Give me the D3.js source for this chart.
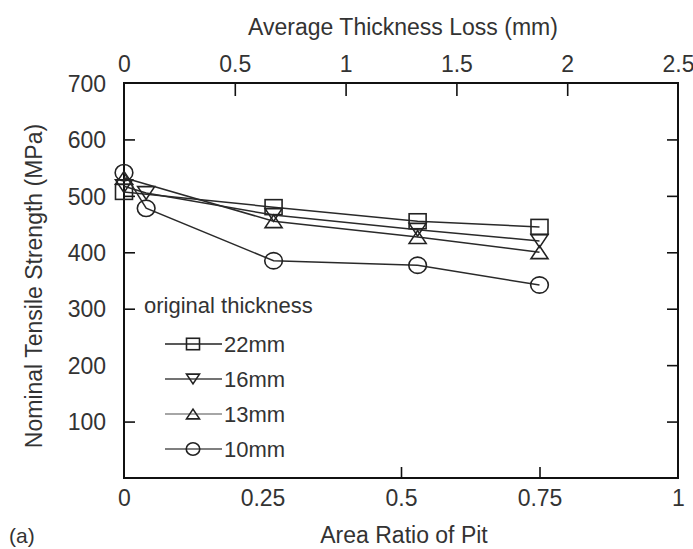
<!DOCTYPE html>
<html>
<head>
<meta charset="utf-8">
<script src="https://cdn.jsdelivr.net/npm/d3@7"></script>
<style>
  html, body { margin: 0; padding: 0; background: #fff; }
  svg text { font-family: "Liberation Sans", Arial, sans-serif; fill: #333; }
</style>
</head>
<body>
<svg id="chart" width="693" height="549"></svg>
<script>
// ---- data ----
const seriesNames = ["22mm", "16mm", "13mm", "10mm"];
const seriesSymbols = ["square", "triDown", "triUp", "circle"];
const ratio22 = [0, 0.27, 0.53, 0.75];
const value22 = [507, 480, 455, 445];
const ratio16 = [0, 0.04, 0.27, 0.53, 0.75];
const value16 = [517, 505, 466, 440, 420];
const ratio13 = [0, 0.27, 0.53, 0.75];
const value13 = [532, 455, 427, 400];
const ratio10 = [0, 0.04, 0.27, 0.53, 0.75];
const value10 = [541, 478, 385, 377, 342];
const xTicks = [0, 0.25, 0.5, 0.75, 1];
const xTickMarks = [0.5, 0.75];
const topTicks = [0, 0.5, 1, 1.5, 2, 2.5];
const topTickMarks = [0.5, 1, 1.5, 2];
const yTicks = [100, 200, 300, 400, 500, 600, 700];
const yTickMarksLeft = [100, 300, 400, 500, 600];
const yTickMarksRight = [100, 200, 300, 400, 500, 600];

const series = [
  { name: seriesNames[0], sym: seriesSymbols[0], x: ratio22, y: value22 },
  { name: seriesNames[1], sym: seriesSymbols[1], x: ratio16, y: value16 },
  { name: seriesNames[2], sym: seriesSymbols[2], x: ratio13, y: value13 },
  { name: seriesNames[3], sym: seriesSymbols[3], x: ratio10, y: value10 }
];

// ---- layout ----
const L = 124, R = 678, T = 83, B = 478;
const svg = d3.select("#chart");
const x = d3.scaleLinear().domain([0, 1]).range([L, R]);
const xTop = d3.scaleLinear().domain([0, 2.5]).range([L, R]);
const y = d3.scaleLinear().domain([0, 700]).range([B, T]);

const fmt = d => String(d);
const tickLen = 11;

// tick labels (no lines)
const lblBottom = svg.append("g").attr("transform", `translate(0,${B})`)
  .call(d3.axisBottom(x).tickValues(xTicks).tickSize(0).tickPadding(12).tickFormat(fmt));
const lblTop = svg.append("g").attr("transform", `translate(0,${T})`)
  .call(d3.axisTop(xTop).tickValues(topTicks).tickSize(0).tickPadding(11).tickFormat(fmt));
const lblLeft = svg.append("g").attr("transform", `translate(${L},0)`)
  .call(d3.axisLeft(y).tickValues(yTicks).tickSize(0).tickPadding(18).tickFormat(fmt));
[lblBottom, lblTop, lblLeft].forEach(g => {
  g.select(".domain").remove();
  g.selectAll("text").attr("font-size", 23).attr("fill", "#3a3a3a")
    .attr("font-family", "Liberation Sans, Arial, sans-serif");
});
lblLeft.selectAll("text").attr("dy", "0.36em");

// inward tick marks
const tickStyle = g => { g.select(".domain").remove(); g.selectAll("line").attr("stroke", "#111").attr("stroke-width", 1.6); g.selectAll("text").remove(); };
svg.append("g").attr("transform", `translate(0,${B})`)
  .call(d3.axisTop(x).tickValues(xTickMarks).tickSize(tickLen)).call(tickStyle);
svg.append("g").attr("transform", `translate(0,${T})`)
  .call(d3.axisBottom(xTop).tickValues(topTickMarks).tickSize(tickLen + 2)).call(tickStyle);
svg.append("g").attr("transform", `translate(${L},0)`)
  .call(d3.axisRight(y).tickValues(yTickMarksLeft).tickSize(tickLen)).call(tickStyle);
svg.append("g").attr("transform", `translate(${R},0)`)
  .call(d3.axisLeft(y).tickValues(yTickMarksRight).tickSize(tickLen)).call(tickStyle);

// frame
svg.append("rect").attr("x", L).attr("y", T).attr("width", R - L).attr("height", B - T)
  .attr("fill", "none").attr("stroke", "#111").attr("stroke-width", 2);

// titles
svg.append("text").attr("x", 403).attr("y", 35).attr("text-anchor", "middle")
  .attr("font-size", 23).text("Average Thickness Loss (mm)");
svg.append("text").attr("x", 404).attr("y", 543).attr("text-anchor", "middle")
  .attr("font-size", 23).text("Area Ratio of Pit");
svg.append("text").attr("transform", "translate(42,286) rotate(-90)").attr("text-anchor", "middle")
  .attr("font-size", 23).text("Nominal Tensile Strength (MPa)");
svg.append("text").attr("x", 9).attr("y", 543).attr("font-size", 21).text("(a)");

// marker drawing
function drawMarker(g, sym, cx, cy, s) {
  const stroke = "#222", sw = 1.6;
  if (sym === "square") {
    g.append("rect").attr("x", cx - s * 0.5).attr("y", cy - s * 0.44).attr("width", s).attr("height", s * 0.88)
      .attr("fill", "none").attr("stroke", stroke).attr("stroke-width", sw);
  } else if (sym === "circle") {
    g.append("ellipse").attr("cx", cx).attr("cy", cy).attr("rx", s * 0.52).attr("ry", s * 0.48)
      .attr("fill", "none").attr("stroke", stroke).attr("stroke-width", sw);
  } else if (sym === "triUp") {
    const h = s * 0.75;
    g.append("path").attr("d", `M${cx - s / 2},${cy + h / 2} L${cx + s / 2},${cy + h / 2} L${cx},${cy - h / 2} Z`)
      .attr("fill", "none").attr("stroke", stroke).attr("stroke-width", sw);
  } else if (sym === "triDown") {
    const h = s * 0.75;
    g.append("path").attr("d", `M${cx - s / 2},${cy - h / 2} L${cx + s / 2},${cy - h / 2} L${cx},${cy + h / 2} Z`)
      .attr("fill", "none").attr("stroke", stroke).attr("stroke-width", sw);
  }
}

// series lines and markers
const line = d3.line().x(d => x(d[0])).y(d => y(d[1]));
const plot = svg.append("g");
series.forEach(s => {
  const pts = s.x.map((v, i) => [v, s.y[i]]);
  plot.append("path").attr("d", line(pts)).attr("fill", "none")
    .attr("stroke", "#2a2a2a").attr("stroke-width", 1.5);
  pts.forEach(p => drawMarker(plot, s.sym, x(p[0]), y(p[1]), 17));
});

// legend
const leg = svg.append("g");
leg.append("text").attr("x", 144).attr("y", 313).attr("font-size", 22).text("original thickness");
const rowY = [344, 379, 414, 449];
const rowStroke = ["#222", "#444", "#888", "#555"];
series.forEach((s, i) => {
  leg.append("line").attr("x1", 165).attr("x2", 222).attr("y1", rowY[i]).attr("y2", rowY[i])
    .attr("stroke", rowStroke[i]).attr("stroke-width", 1.6);
  drawMarker(leg, s.sym, 193, rowY[i], 13);
  leg.append("text").attr("x", 224).attr("y", rowY[i] + 8).attr("font-size", 22).text(s.name);
});
</script>
</body>
</html>
